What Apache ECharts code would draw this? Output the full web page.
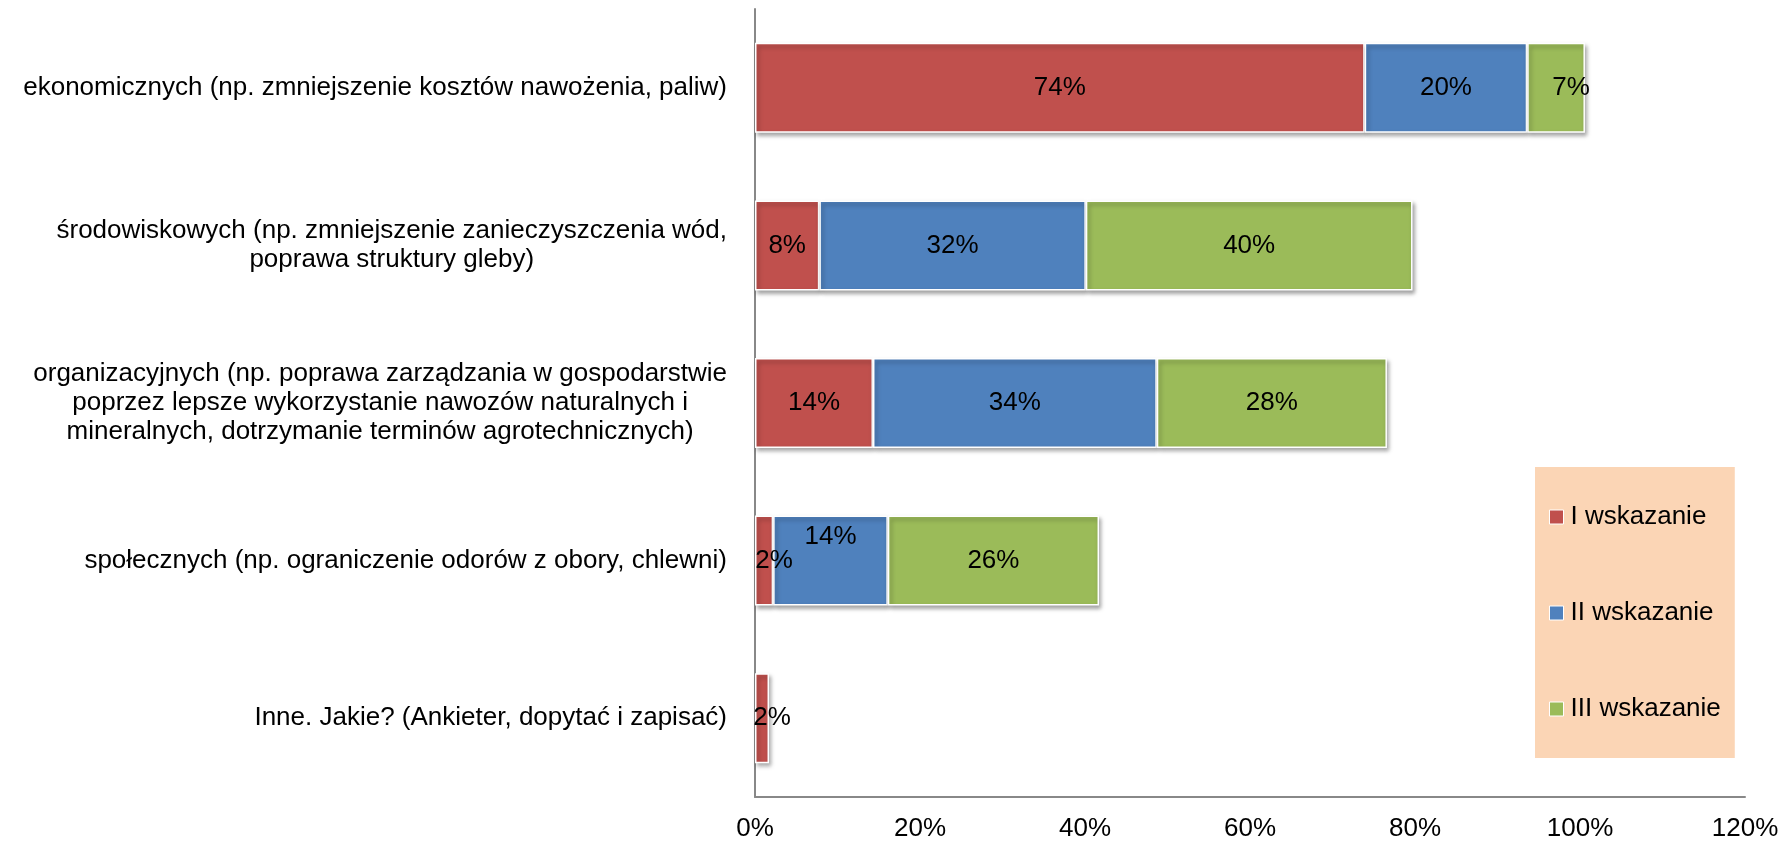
<!DOCTYPE html>
<html>
<head>
<meta charset="utf-8">
<title>Korzyści</title>
<script src="https://cdn.jsdelivr.net/npm/echarts@6.0.0/dist/echarts.min.js"></script>
<style>
  html, body { margin: 0; padding: 0; background: #fff; }
  #chart { width: 1783px; height: 842px; }
</style>
</head>
<body>
<div id="chart"></div>
<script>
// kategorie (od góry)
const categories = [
  'ekonomicznych (np. zmniejszenie kosztów nawożenia, paliw)',
  'środowiskowych (np. zmniejszenie zanieczyszczenia wód,\npoprawa struktury gleby)',
  'organizacyjnych (np. poprawa zarządzania w gospodarstwie\npoprzez lepsze wykorzystanie nawozów naturalnych i\nmineralnych, dotrzymanie terminów agrotechnicznych)',
  'społecznych (np. ograniczenie odorów z obory, chlewni)',
  'Inne. Jakie? (Ankieter, dopytać i zapisać)'
];
const seriesNames = ['I wskazanie', 'II wskazanie', 'III wskazanie'];
const wskazanie1 = [73.9, 7.8, 14.3, 2.2, 1.7];
const wskazanie2 = [19.7, 32.3, 34.4, 13.9, null];
const wskazanie3 = [7.0, 39.6, 27.9, 25.6, null];
const xTicks = [0, 20, 40, 60, 80, 100, 120];

const colors = ['#C0504D', '#4F81BD', '#9BBB59'];
const FONT = "'Liberation Sans', Arial, sans-serif";
const FS = 26;

const chart = echarts.init(document.getElementById('chart'));

function makeSeries(name, values, color, offsets) {
  return {
    name: name,
    type: 'bar',
    stack: 'total',
    barWidth: 90,
    itemStyle: {
      color: color,
      borderColor: '#fff',
      borderWidth: 1.5,
      shadowColor: 'rgba(0,0,0,0.35)',
      shadowBlur: 4,
      shadowOffsetX: 2,
      shadowOffsetY: 3
    },
    label: {
      show: true,
      position: 'inside',
      color: '#000',
      fontFamily: FONT,
      fontSize: FS,
      formatter: p => (p.value == null ? '' : Math.round(p.value) + '%')
    },
    // etykiety przesunięte tak jak w oryginale (Excel)
    data: values.map((v, i) => {
      const o = offsets[i];
      return o ? { value: v, label: { offset: o } } : v;
    })
  };
}

chart.setOption({
  animation: false,
  textStyle: { fontFamily: FONT },
  grid: { left: 755, right: 38, top: 9, bottom: 44, containLabel: false },
  legend: {
    data: seriesNames,
    orient: 'vertical',
    left: 1535,
    top: 467,
    padding: [37, 14, 36, 14],
    itemGap: 70,
    itemWidth: 14,
    itemHeight: 14,
    icon: 'rect',
    backgroundColor: '#FBD5B5',
    itemStyle: { borderColor: '#fff', borderWidth: 1, shadowBlur: 0, shadowOffsetX: 0, shadowOffsetY: 0 },
    textStyle: { fontFamily: FONT, fontSize: FS, color: '#000', padding: [0, 0, 0, 2] }
  },
  xAxis: {
    type: 'value',
    min: xTicks[0],
    max: xTicks[xTicks.length - 1],
    interval: 20,
    axisLine: { show: true, lineStyle: { color: '#888', width: 2 } },
    axisTick: { show: false },
    splitLine: { show: false },
    axisLabel: {
      margin: 19,
      fontFamily: FONT,
      fontSize: FS,
      color: '#000',
      formatter: '{value}%'
    }
  },
  yAxis: {
    type: 'category',
    inverse: true,
    data: categories,
    axisLine: { show: true, lineStyle: { color: '#888', width: 2 } },
    axisTick: { show: false },
    axisLabel: {
      margin: 28,
      align: 'right',
      color: '#000',
      fontFamily: FONT,
      fontSize: FS,
      lineHeight: 29,
      formatter: v => v.split('\n').map(s => '{c|' + s + '}').join('\n'),
      rich: {
        c: { align: 'center', fontFamily: FONT, fontSize: FS, lineHeight: 29, color: '#000' }
      }
    }
  },
  series: [
    makeSeries(seriesNames[0], wskazanie1, colors[0], [null, null, null, [10, 0], [10, 0]]),
    makeSeries(seriesNames[1], wskazanie2, colors[1], [null, null, null, [0, -24], null]),
    makeSeries(seriesNames[2], wskazanie3, colors[2], [[15, 0], null, null, null, null])
  ]
});
</script>
</body>
</html>
